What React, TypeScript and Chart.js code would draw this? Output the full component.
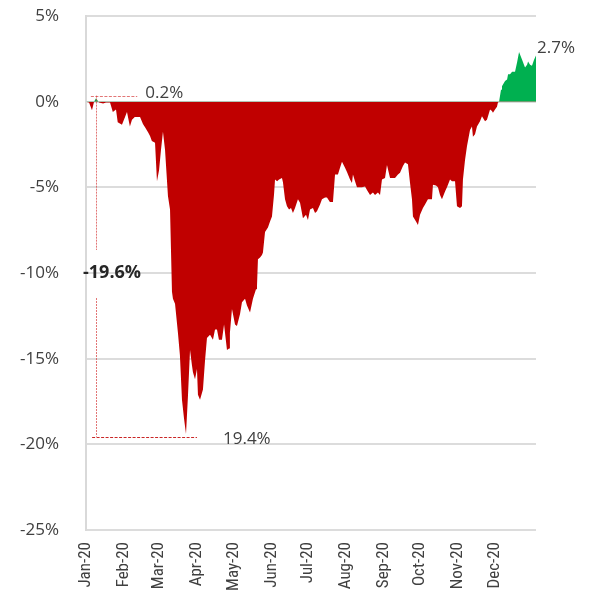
import React, { useEffect, useRef } from "react";
import { Chart, registerables } from "chart.js";

Chart.register(...registerables);

// Day of year (0 = 1 Jan 2020) for each observation
const days = [
  0, 2.5, 4.9, 6.6, 8.2, 10.7, 14, 16.4, 19.7, 22, 24.6, 26, 29.5, 32, 33.6, 36, 37.7, 40, 44.3, 46.7,
  48.4, 51, 52.5, 54, 56.6, 58.2, 59.9, 61.5, 63.1, 64.8, 67.2, 68.9, 70.5, 71.3, 73, 75.4, 77, 78.7, 80.4, 82,
  83.6, 85.3, 86.9, 87.7, 89.4, 91, 91.8, 93.5, 95.9, 97.6, 99.2, 101.7, 104.1, 105.8, 107.4, 109, 111.5, 113.2, 115.6, 117.3,
  118, 119.7, 122.2, 123.8, 126.3, 127.9, 130.4, 132, 134.5, 136.9, 139.4, 140.2, 141, 142.7, 144.3, 145.1, 146.8, 149.2, 150.9, 152.5,
  154.2, 155, 156.7, 158.3, 160.7, 161.5, 163.2, 164.8, 166.5, 168.1, 169.7, 171.4, 173.8, 175.5, 177.9, 180.4, 182, 183.7, 186.1, 187.8,
  189.4, 191.9, 193.5, 196, 197.6, 200, 202.5, 204.2, 206.6, 208.3, 209.9, 212.4, 214, 216.5, 218.1, 218.9, 220.6, 222.2, 224.7, 226.3,
  228.8, 230.4, 232.9, 235.3, 237, 239.4, 241.1, 242.7, 245.2, 246.8, 249.3, 251.7, 253.4, 255.8, 257.5, 259.9, 261.6, 264, 265.7, 267.3,
  268.1, 270.6, 272.2, 273.9, 276.3, 278, 280.4, 283.7, 284.5, 287, 288.6, 290.3, 291.9, 294.4, 296, 298.5, 300.1, 302.6, 304.2, 306.7,
  308.3, 309.1, 310.8, 312.4, 314.9, 316.5, 317.3, 319, 320.6, 323.1, 324.7, 327.2, 328.8, 331.3, 332.9, 333.7, 335.4, 337, 337.8, 338.7,
  340.3, 341.1, 343.6, 345.3, 346.1, 347.7, 349.4, 351.8, 353.5, 355.1, 355.9, 357.6, 360, 361.7, 362.5, 364.1, 365.7, 367.4, 369,
];

// Cumulative return (%) at each observation
const returns = [
  0, -0.05, -0.5, 0, 0.2, -0.05, -0.1, -0.05, -0.05, -0.6, -0.45, -1.2, -1.35, -0.9, -0.6, -1.45, -1.05, -0.9, -0.9, -1.3,
  -1.5, -1.8, -2.0, -2.3, -2.4, -4.65, -4.0, -2.8, -1.75, -2.8, -5.5, -6.3, -11.1, -11.5, -11.8, -13.5, -14.8, -17.4, -18.5, -19.4,
  -17.2, -14.5, -15.4, -15.8, -16.2, -15.6, -17.1, -17.4, -16.8, -15.1, -13.8, -13.6, -13.9, -13.3, -13.3, -13.9, -13.9, -13.0, -14.5, -14.4,
  -13.5, -12.1, -13.0, -13.1, -12.4, -11.7, -11.5, -11.9, -12.3, -11.5, -10.95, -10.8, -9.2, -9.1, -8.95, -8.8, -7.6, -7.35, -7.0, -6.7,
  -5.4, -4.55, -4.65, -4.55, -4.45, -4.7, -5.7, -6.1, -6.3, -6.2, -6.5, -6.2, -5.7, -5.9, -6.8, -6.6, -6.9, -6.3, -6.2, -6.5,
  -6.4, -6.0, -5.7, -5.6, -5.6, -5.85, -5.85, -4.25, -4.25, -3.85, -3.5, -3.85, -4.1, -4.55, -4.75, -4.25, -4.65, -5.0, -5.0, -5.0,
  -4.95, -5.15, -5.45, -5.3, -5.45, -5.3, -5.45, -4.55, -4.45, -3.7, -4.45, -4.45, -4.45, -4.25, -4.15, -3.75, -3.55, -3.65, -4.75, -5.7,
  -6.7, -7.0, -7.2, -6.6, -6.2, -6.0, -5.7, -5.7, -4.85, -4.9, -5.0, -5.45, -5.7, -5.25, -5.0, -4.55, -4.65, -4.65, -6.1, -6.2,
  -6.1, -4.55, -3.4, -2.6, -1.65, -1.45, -2.05, -1.9, -1.45, -1.15, -0.85, -1.15, -1.05, -0.45, -0.55, -0.65, -0.45, -0.3, -0.05, 0,
  0.7, 0.9, 1.2, 1.3, 1.6, 1.6, 1.75, 1.75, 2.3, 2.9, 2.75, 2.45, 2.0, 2.15, 2.35, 2.15, 2.1, 2.45, 2.7,
];

const monthStarts = [0, 31, 60, 91, 121, 152, 182, 213, 244, 274, 305, 335];
const monthLabels = [
  "Jan-20", "Feb-20", "Mar-20", "Apr-20", "May-20", "Jun-20",
  "Jul-20", "Aug-20", "Sep-20", "Oct-20", "Nov-20", "Dec-20",
];

const Y_MIN = -25;
const Y_MAX = 5;
const Y_STEP = 5;
const X_MIN = 0;
const X_MAX = 369;

// Annotation anchors (data units)
const PEAK_DAY = 8.2;
const PEAK_LEVEL = 0.35;
const PEAK_LINE_FROM = 4;
const PEAK_LINE_TO = 42;
const TROUGH_LEVEL = -19.55;
const TROUGH_LINE_FROM = 5;
const TROUGH_LINE_TO = 91;
const DRAWDOWN_LABEL_LEVEL = -10;
const END_DAY = 369;
const END_LEVEL = 2.7;

const PEAK_LABEL = "0.2%";
const TROUGH_LABEL = "19.4%";
const DRAWDOWN_LABEL = "-19.6%";
const END_LABEL = "2.7%";

const FONT = "'Open Sans', 'Noto Sans', sans-serif";
const NARROW = "'Liberation Sans Narrow', 'Arial Narrow', 'Roboto Condensed', sans-serif";

const annotationPlugin = {
  id: "drawdownAnnotations",
  afterDatasetsDraw(chart: any) {
    const { ctx, scales } = chart;
    const x = scales.x;
    const y = scales.y;
    const px = x.getPixelForValue(PEAK_DAY);
    const py = y.getPixelForValue(PEAK_LEVEL);
    const ty = y.getPixelForValue(TROUGH_LEVEL);
    const my = y.getPixelForValue(DRAWDOWN_LABEL_LEVEL);
    const line = (x1: number, y1: number, x2: number, y2: number) => {
      ctx.beginPath();
      ctx.moveTo(x1, y1);
      ctx.lineTo(x2, y2);
      ctx.stroke();
    };
    ctx.save();
    ctx.lineWidth = 1;
    ctx.strokeStyle = "rgba(214, 60, 60, 0.7)";
    ctx.setLineDash([3, 1.5]);
    line(x.getPixelForValue(PEAK_LINE_FROM), Math.round(py) + 0.5, x.getPixelForValue(PEAK_LINE_TO), Math.round(py) + 0.5);
    ctx.setLineDash([2, 1]);
    line(Math.round(px) + 0.5, py, Math.round(px) + 0.5, my - 23);
    line(Math.round(px) + 0.5, my + 25, Math.round(px) + 0.5, ty);
    ctx.strokeStyle = "rgba(192, 0, 0, 0.85)";
    ctx.setLineDash([3, 1.5]);
    line(x.getPixelForValue(TROUGH_LINE_FROM), Math.round(ty) + 0.5, x.getPixelForValue(TROUGH_LINE_TO), Math.round(ty) + 0.5);
    ctx.setLineDash([]);

    ctx.textBaseline = "middle";
    ctx.textAlign = "left";
    ctx.fillStyle = "#404040";
    ctx.font = `17px ${FONT}`;
    ctx.fillText(PEAK_LABEL, x.getPixelForValue(PEAK_LINE_TO) + 8, py - 3);
    ctx.fillText(TROUGH_LABEL, x.getPixelForValue(TROUGH_LINE_TO) + 26, ty + 3);
    ctx.fillText(END_LABEL, x.getPixelForValue(END_DAY) + 1, y.getPixelForValue(END_LEVEL) - 7);
    ctx.fillStyle = "#262626";
    ctx.font = `bold 18px ${FONT}`;
    ctx.fillText(DRAWDOWN_LABEL, px - 13, my);
    ctx.restore();
  },
};

export default function App() {
  const canvasRef = useRef<HTMLCanvasElement | null>(null);

  useEffect(() => {
    document.body.style.margin = "0";
    const canvas = canvasRef.current;
    if (!canvas) return;
    const points = days.map((d, i) => ({ x: d, y: returns[i] }));
    const chart = new Chart(canvas, {
      type: "line",
      data: {
        datasets: [
          {
            data: points,
            borderWidth: 0,
            borderColor: "rgba(0,0,0,0)",
            pointRadius: 0,
            tension: 0,
            fill: { target: "origin", above: "#00b050", below: "#c00000" },
          },
        ],
      },
      options: {
        animation: false,
        responsive: false,
        maintainAspectRatio: false,
        layout: { padding: { top: 16, right: 53, bottom: 0, left: 0 } },
        plugins: {
          legend: { display: false },
          tooltip: { enabled: false },
          title: { display: false },
        },
        scales: {
          x: {
            type: "linear",
            min: X_MIN,
            max: X_MAX,
            afterBuildTicks: (scale: any) => {
              scale.ticks = monthStarts.map((v) => ({ value: v }));
            },
            afterFit: (scale: any) => {
              scale.height = 60;
              scale.paddingLeft = 0;
              scale.paddingRight = 0;
              scale.paddingTop = 0;
              scale.paddingBottom = 0;
            },
            ticks: {
              autoSkip: false,
              minRotation: 90,
              maxRotation: 90,
              padding: 12,
              color: "#404040",
              font: { family: NARROW, size: 17 },
              callback: (_v: any, i: number) => monthLabels[i],
            },
            grid: { display: false, drawTicks: false },
            border: { display: false },
          },
          y: {
            min: Y_MIN,
            max: Y_MAX,
            afterFit: (scale: any) => {
              scale.width = 86;
              scale.paddingTop = 0;
              scale.paddingBottom = 0;
            },
            ticks: {
              stepSize: Y_STEP,
              padding: 27,
              color: "#404040",
              font: { family: FONT, size: 17 },
              callback: (v: any) => `${v}%`,
            },
            grid: { color: "#dcdcdc", lineWidth: 2, drawTicks: false },
            border: { display: true, color: "#d9d9d9", width: 2 },
          },
        },
      },
      plugins: [annotationPlugin],
    } as any);
    return () => chart.destroy();
  }, []);

  return <canvas ref={canvasRef} width={589} height={590} style={{ display: "block", width: 589, height: 590 }} />;
}
